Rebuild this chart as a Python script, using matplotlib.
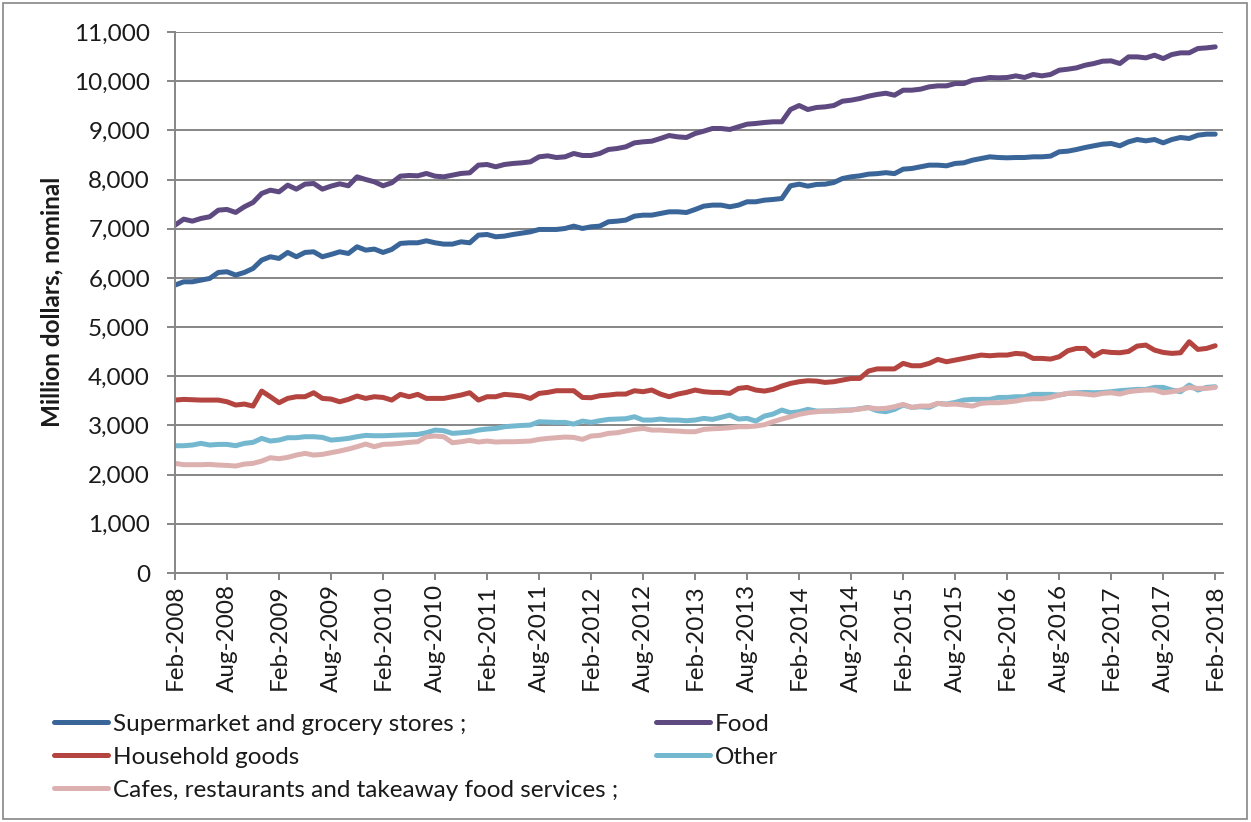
import matplotlib
matplotlib.use("Agg")
import matplotlib.pyplot as plt
from matplotlib.lines import Line2D
from matplotlib.patches import Rectangle
from matplotlib.ticker import FuncFormatter, FixedLocator
import numpy as np

plt.rcParams['font.family'] = ['Lato', 'DejaVu Sans']

# Monthly retail turnover, Feb-2008 .. Feb-2018 (million dollars, nominal)
tick_labels = ["Feb-2008", "Aug-2008", "Feb-2009", "Aug-2009", "Feb-2010", "Aug-2010",
               "Feb-2011", "Aug-2011", "Feb-2012", "Aug-2012", "Feb-2013", "Aug-2013",
               "Feb-2014", "Aug-2014", "Feb-2015", "Aug-2015", "Feb-2016", "Aug-2016",
               "Feb-2017", "Aug-2017", "Feb-2018"]

supermarket = [
    5854, 5921, 5921, 5955, 5989, 6111, 6125, 6057, 6111, 6192, 6362, 6430, 6396, 6518, 6430, 6518,
    6531, 6430, 6477, 6531, 6497, 6633, 6565, 6586, 6518, 6579, 6701, 6714, 6714, 6755, 6714, 6687,
    6687, 6734, 6714, 6870, 6883, 6836, 6850, 6883, 6910,
    6937, 6985, 6985, 6985, 7005, 7053, 7005, 7039, 7053, 7141, 7154, 7175, 7256, 7276, 7276, 7310,
    7344, 7344, 7330, 7391, 7459, 7480, 7480, 7446, 7480, 7548, 7548, 7581, 7595, 7615, 7873, 7906,
    7866, 7900, 7906, 7940, 8021, 8055, 8075, 8110,
    8120, 8140, 8120, 8211, 8225, 8259, 8293, 8293, 8279, 8327, 8340, 8394, 8428, 8462, 8448, 8442,
    8448, 8448, 8462, 8462, 8476, 8564, 8577, 8611, 8652, 8686, 8719, 8733, 8686, 8767, 8814, 8787,
    8814, 8746, 8814, 8855, 8835, 8902, 8923, 8923]

food = [
    7073, 7195, 7154, 7209, 7243, 7378, 7392, 7331, 7446, 7534, 7717, 7784, 7750, 7886, 7805, 7907,
    7920, 7805, 7866, 7913, 7873, 8055, 8001, 7954, 7873, 7934, 8069, 8083, 8076, 8124, 8069, 8055,
    8089, 8124, 8137, 8293, 8306, 8259, 8306, 8327, 8340,
    8360, 8462, 8482, 8448, 8462, 8530, 8489, 8489, 8530, 8611, 8631, 8665, 8746, 8767, 8780, 8835,
    8895, 8868, 8855, 8936, 8984, 9038, 9038, 9018, 9072, 9126, 9140, 9160, 9174, 9174, 9424, 9505,
    9424, 9465, 9478, 9505, 9593, 9614, 9647, 9695,
    9730, 9755, 9715, 9817, 9817, 9837, 9885, 9905, 9905, 9952, 9952, 10020, 10041, 10075, 10068, 10075,
    10108, 10075, 10136, 10108, 10136, 10223, 10244, 10271, 10325, 10359, 10406, 10413, 10359, 10494,
    10494, 10474, 10528, 10460, 10542, 10576, 10576, 10664, 10677, 10698]

household = [
    3516, 3530, 3523, 3516, 3516, 3516, 3482, 3415, 3435, 3394, 3699, 3584, 3462, 3550, 3584, 3584,
    3665, 3550, 3537, 3482, 3530, 3598, 3550, 3584, 3570, 3516, 3632, 3584, 3632, 3550, 3550, 3550,
    3584, 3618, 3665, 3516, 3584, 3584, 3632, 3618, 3600,
    3550, 3652, 3672, 3706, 3706, 3706, 3570, 3564, 3604, 3618, 3638, 3638, 3706, 3686, 3720, 3638,
    3584, 3638, 3672, 3720, 3686, 3672, 3672, 3652, 3753, 3774, 3720, 3699, 3733, 3801, 3855, 3889,
    3909, 3902, 3875, 3889, 3923, 3956, 3956, 4106,
    4150, 4150, 4150, 4262, 4214, 4214, 4262, 4343, 4295, 4329, 4363, 4397, 4431, 4417, 4431, 4431,
    4465, 4451, 4363, 4363, 4350, 4397, 4519, 4566, 4566, 4411, 4505, 4485, 4478, 4505, 4614, 4634,
    4532, 4485, 4465, 4478, 4702, 4546, 4566, 4621]

other = [
    2588, 2588, 2602, 2636, 2602, 2615, 2615, 2588, 2636, 2656, 2737, 2683, 2703, 2751, 2751, 2771,
    2771, 2757, 2703, 2717, 2737, 2771, 2798, 2791, 2791, 2798, 2805, 2812, 2818, 2852, 2906, 2893,
    2839, 2852, 2866, 2906, 2927, 2940, 2974, 2988, 3000,
    3008, 3076, 3069, 3062, 3062, 3028, 3089, 3062, 3096, 3123, 3130, 3137, 3177, 3110, 3110, 3130,
    3110, 3110, 3096, 3110, 3144, 3123, 3164, 3211, 3130, 3144, 3089, 3191, 3232, 3313, 3259, 3279,
    3327, 3293, 3293, 3300, 3313, 3313, 3340, 3367,
    3300, 3279, 3327, 3415, 3367, 3381, 3367, 3449, 3435, 3469, 3516, 3530, 3530, 3530, 3570, 3570,
    3584, 3584, 3632, 3632, 3632, 3618, 3652, 3665, 3672, 3665, 3672, 3686, 3706, 3720, 3733, 3733,
    3774, 3774, 3720, 3686, 3821, 3720, 3774, 3787]

cafes = [
    2229, 2202, 2202, 2202, 2208, 2195, 2188, 2175, 2215, 2229, 2276, 2344, 2324, 2351, 2398, 2432,
    2398, 2412, 2446, 2480, 2520, 2568, 2622, 2568, 2615, 2622, 2636, 2656, 2669, 2771, 2785, 2771,
    2649, 2669, 2697, 2663, 2683, 2663, 2669, 2669, 2675,
    2683, 2717, 2737, 2751, 2764, 2757, 2717, 2785, 2798, 2839, 2852, 2886, 2920, 2940, 2906, 2906,
    2893, 2886, 2873, 2873, 2920, 2933, 2940, 2954, 2974, 2974, 2988, 3015, 3076, 3130, 3177, 3225,
    3259, 3279, 3293, 3293, 3300, 3313, 3333, 3361,
    3340, 3347, 3381, 3428, 3367, 3394, 3394, 3449, 3428, 3435, 3415, 3394, 3449, 3462, 3462, 3476,
    3496, 3530, 3543, 3543, 3570, 3618, 3652, 3652, 3638, 3618, 3652, 3665, 3638, 3686, 3706, 3720,
    3720, 3665, 3686, 3720, 3774, 3753, 3753, 3774]

series_names = ["Supermarket and grocery stores ;", "Food", "Household goods", "Other",
                "Cafes, restaurants and takeaway food services ;"]
series_values = [supermarket, food, household, other, cafes]
series_colors = ["#3A6599", "#5E4A80", "#B4443F", "#74B8D0", "#DDB0B0"]

W, H = 1251, 822
fig = plt.figure(figsize=(W / 100, H / 100), dpi=100)


def fx(px):
    return px / W


def fy(py):
    return 1 - py / H


ax = fig.add_axes([fx(175), fy(573), fx(1223) - fx(175), fy(32) - fy(573)])

grid_col = "#868686"
text_col = "#1a1a1a"
fs = 17.5

n = len(food)
x = np.arange(n)
for vals, col in zip(series_values, series_colors):
    ax.plot(x, vals, color=col, lw=3.6, solid_capstyle="round", solid_joinstyle="round")

ax.set_xlim(0, 120.9)
ax.set_ylim(0, 11000)
ax.yaxis.set_major_locator(FixedLocator(np.arange(0, 11001, 1000)))
ax.yaxis.set_major_formatter(FuncFormatter(lambda v, p: f"{int(v):,}"))
ax.set_xticks(np.arange(0, n, 6))
ax.set_xticklabels(tick_labels, rotation=90, ha="center", va="top")

ax.grid(axis="y", color=grid_col, lw=1.4)
ax.set_axisbelow(True)
for side in ["top", "right"]:
    ax.spines[side].set_visible(False)
for side in ["left", "bottom"]:
    ax.spines[side].set_color(grid_col)
    ax.spines[side].set_linewidth(1.4)
ax.tick_params(axis="y", length=6, width=1.4, color=grid_col, pad=12, labelsize=fs, labelcolor=text_col)
ax.tick_params(axis="x", length=5, width=1.4, color=grid_col, pad=3, labelsize=fs, labelcolor=text_col)

fig.text(fx(52), fy(302), "Million dollars, nominal", rotation=90, ha="center", va="center",
         fontsize=fs, fontweight="bold", color=text_col)

# legend: two columns, entries laid out row by row
legend_slots = [(54, 722), (656, 722), (54, 755), (656, 755), (54, 788)]
for (lx, ly), name, col in zip(legend_slots, series_names, series_colors):
    fig.add_artist(Line2D([fx(lx), fx(lx + 54)], [fy(ly), fy(ly)], color=col, lw=3.6,
                          solid_capstyle="round", transform=fig.transFigure))
    fig.text(fx(lx + 59), fy(ly), name, ha="left", va="center_baseline", fontsize=fs, color=text_col)

fig.add_artist(Rectangle((fx(3), fy(819)), fx(1247) - fx(3), fy(3) - fy(819), fill=False,
                         edgecolor=grid_col, lw=1.2, transform=fig.transFigure))

fig.savefig("out.png", dpi=100, facecolor="white")
